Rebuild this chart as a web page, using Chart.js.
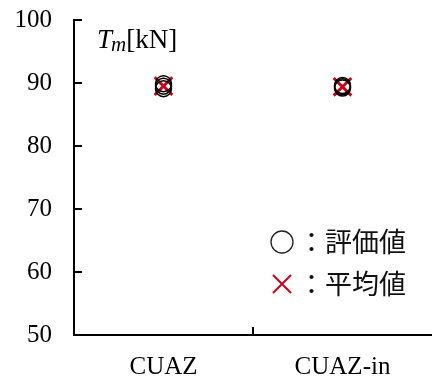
<!DOCTYPE html>
<html>
<head>
<meta charset="utf-8">
<script src="https://cdn.jsdelivr.net/npm/chart.js@4/dist/chart.umd.min.js"></script>
<style>
  html, body { margin: 0; padding: 0; background: #fff; }
  #wrap { width: 432px; height: 381px; }
</style>
</head>
<body>
<div id="wrap"><canvas id="tmChart"></canvas></div>
<script>
// categories and values
const categories = ["CUAZ", "CUAZ-in"];
const evalCUAZ = [89.1, 89.5, 89.9];      // 評価値 (several specimens)
const evalCUAZin = [89.2, 89.4, 89.6];
const avgValues = [89.5, 89.4];            // 平均値
const yTicks = [50, 60, 70, 80, 90, 100];
const legendLabels = ["：評価値", "：平均値"];

const SERIF = "'Liberation Serif', 'Times New Roman', serif";
const CJK = "'Noto Sans CJK JP', sans-serif";
const RED = "#d0021b";

const evalPoints = []
    .concat(evalCUAZ.map(v => ({ x: categories[0], y: v })))
    .concat(evalCUAZin.map(v => ({ x: categories[1], y: v })));
const avgPoints = avgValues.map((v, i) => ({ x: categories[i], y: v }));

// inward tick marks, the axis title and the legend box
const decorations = {
    id: "decorations",
    afterDraw(chart) {
        const ctx = chart.ctx;
        const xs = chart.scales.x, ys = chart.scales.y;
        const left = chart.chartArea.left, bottom = chart.chartArea.bottom;
        ctx.save();
        ctx.strokeStyle = "#000";
        ctx.lineWidth = 2;
        ctx.beginPath();
        yTicks.slice(1).forEach(v => {
            const py = Math.round(ys.getPixelForValue(v));
            ctx.moveTo(left, py);
            ctx.lineTo(left + 8, py);
        });
        const mid = (xs.getPixelForTick(0) + xs.getPixelForTick(1)) / 2;
        ctx.moveTo(mid, bottom);
        ctx.lineTo(mid, bottom - 8);
        ctx.stroke();

        // T_m [kN]
        ctx.fillStyle = "#000";
        ctx.textBaseline = "alphabetic";
        ctx.textAlign = "left";
        let x = 97, y = 48;
        ctx.font = "italic 27px " + SERIF;
        ctx.fillText("T", x, y);
        x += ctx.measureText("T").width - 1;
        ctx.font = "italic 21px " + SERIF;
        ctx.fillText("m", x, y + 3);
        x += ctx.measureText("m").width;
        ctx.font = "27px " + SERIF;
        ctx.fillText("[kN]", x, y);

        // legend
        const lx = 282, ly1 = 242, ly2 = 284;
        ctx.lineWidth = 1.3;
        ctx.strokeStyle = "#222";
        ctx.beginPath();
        ctx.arc(lx, ly1, 11, 0, Math.PI * 2);
        ctx.stroke();
        ctx.strokeStyle = RED;
        ctx.lineWidth = 2;
        ctx.beginPath();
        ctx.moveTo(lx - 9, ly2 - 9); ctx.lineTo(lx + 9, ly2 + 9);
        ctx.moveTo(lx + 9, ly2 - 9); ctx.lineTo(lx - 9, ly2 + 9);
        ctx.stroke();
        ctx.font = "27px " + CJK;
        ctx.textBaseline = "middle";
        ctx.fillStyle = "#111";
        ctx.fillText(legendLabels[0], 298, ly1);
        ctx.fillText(legendLabels[1], 298, ly2);
        ctx.restore();
    }
};

new Chart(document.getElementById("tmChart"), {
    type: "line",
    data: {
        labels: categories,
        datasets: [
            {
                label: "評価値",
                data: evalPoints,
                showLine: false,
                pointStyle: "circle",
                pointRadius: 8,
                pointBorderWidth: 1.5,
                pointBorderColor: "#000",
                pointBackgroundColor: "rgba(0,0,0,0)"
            },
            {
                label: "平均値",
                data: avgPoints,
                showLine: false,
                pointStyle: "crossRot",
                pointRadius: 12.5,
                pointBorderWidth: 3,
                pointBorderColor: RED
            }
        ]
    },
    options: {
        responsive: true,
        maintainAspectRatio: false,
        animation: false,
        layout: { autoPadding: false, padding: { top: 20, right: 0, left: 0, bottom: 0 } },
        plugins: {
            legend: { display: false },
            tooltip: { enabled: false }
        },
        scales: {
            x: {
                type: "category",
                offset: true,
                grid: { display: false, drawTicks: false },
                border: { display: true, color: "#000", width: 2 },
                ticks: {
                    color: "#000",
                    font: { family: SERIF, size: 25 },
                    padding: 17
                },
                afterFit(scale) {
                    scale.height = 46;
                    scale.paddingLeft = 0;
                    scale.paddingRight = 0;
                }
            },
            y: {
                min: 50,
                max: 100,
                grid: { display: false, drawTicks: false },
                border: { display: true, color: "#000", width: 2 },
                ticks: {
                    stepSize: 10,
                    color: "#000",
                    font: { family: SERIF, size: 25 },
                    padding: 22
                },
                afterFit(scale) {
                    scale.width = 74;
                    scale.paddingTop = 0;
                    scale.paddingBottom = 0;
                }
            }
        }
    },
    plugins: [decorations]
});
</script>
</body>
</html>
